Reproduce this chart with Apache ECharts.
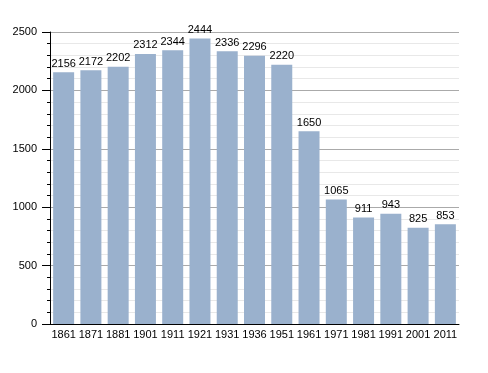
<!DOCTYPE html>
<html><head><meta charset="utf-8">
<script src="https://cdn.jsdelivr.net/npm/echarts@6/dist/echarts.min.js"></script>
<style>html,body{margin:0;padding:0;background:#fff}#c{width:488px;height:373px}</style>
</head><body><div id="c"></div>
<script>
var categories = ['1861','1871','1881','1901','1911','1921','1931','1936','1951','1961','1971','1981','1991','2001','2011'];
var population = [2156,2172,2202,2312,2344,2444,2336,2296,2220,1650,1065,911,943,825,853];
var yTicks = [0,500,1000,1500,2000,2500];

var chart = echarts.init(document.getElementById('c'));
chart.setOption({
  animation: false,
  grid: {left: 50, right: 29, top: 32, bottom: 49},
  textStyle: {fontFamily: 'Liberation Sans, Arial, sans-serif'},
  xAxis: {
    type: 'category', data: categories,
    axisLine: {lineStyle: {color: '#000', width: 1}},
    axisTick: {show: false},
    axisLabel: {color: '#000', fontSize: 11, margin: 5, interval: 0}
  },
  yAxis: {
    type: 'value', min: yTicks[0], max: yTicks[yTicks.length-1], interval: 500,
    axisLine: {show: true, lineStyle: {color: '#000', width: 1}},
    axisTick: {show: true, length: 8, lineStyle: {color: '#000'}},
    minorTick: {show: true, splitNumber: 5, length: 3, lineStyle: {color: '#000'}},
    axisLabel: {color: '#000', fontSize: 11, margin: 13, formatter: function (v) { return String(v); }},
    splitLine: {show: true, lineStyle: {color: '#aaaaaa', width: 1}},
    minorSplitLine: {show: true, lineStyle: {color: '#e8e8e8', width: 1}}
  },
  series: [{
    type: 'bar', data: population, barCategoryGap: '23%',
    itemStyle: {color: '#9ab1cd'},
    label: {show: true, position: 'top', color: '#000', fontSize: 11, distance: 3}
  }]
});
</script></body></html>
